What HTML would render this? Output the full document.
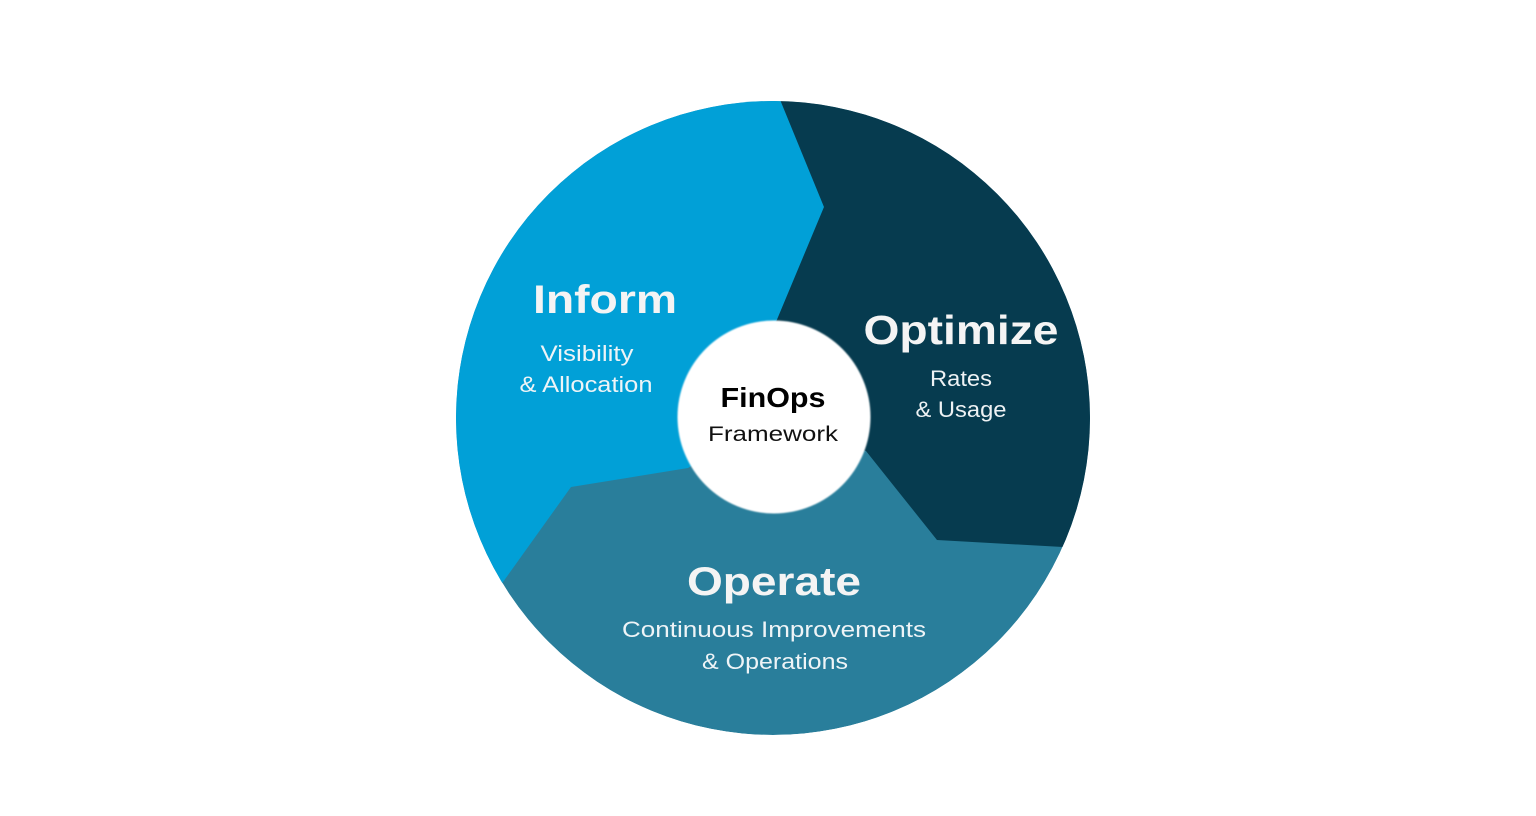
<!DOCTYPE html>
<html>
<head>
<meta charset="utf-8">
<style>
  html, body { margin:0; padding:0; background:#ffffff; }
  body { width:1536px; height:816px; overflow:hidden; }
  svg { display:block; }
  text { font-family: "Liberation Sans", sans-serif; }
</style>
</head>
<body>
<svg width="1536" height="816" viewBox="0 0 1536 816" xmlns="http://www.w3.org/2000/svg">
  <defs>
    <clipPath id="outer">
      <circle cx="773" cy="418" r="317"/>
    </clipPath>
    <filter id="soft" x="-10%" y="-10%" width="120%" height="120%">
      <feGaussianBlur stdDeviation="0.8"/>
    </filter>
  </defs>
  <rect width="1536" height="816" fill="#ffffff"/>
  <g clip-path="url(#outer)">
    <!-- Operate base -->
    <circle cx="773" cy="418" r="317" fill="#297e9b"/>
    <!-- Inform -->
    <polygon fill="#01a0d7" points="772,80 824,207 776,322 774,417 688,468 571,487 460,642 400,642 400,80"/>
    <!-- Optimize -->
    <polygon fill="#063b4f" points="772,80 824,207 776,322 774,417 866,451 937,540 1063,547 1120,550 1120,80"/>
  </g>
  <!-- center circle -->
  <circle cx="774" cy="417" r="96.5" fill="#ffffff" filter="url(#soft)"/>
  <circle cx="774" cy="417" r="95" fill="#ffffff"/>

  <!-- Inform -->
  <text x="605" y="313" text-anchor="middle" font-size="40" font-weight="bold" fill="#f4f4f4" textLength="144" lengthAdjust="spacingAndGlyphs">Inform</text>
  <text x="587" y="361" text-anchor="middle" font-size="22" fill="#eef4f7" textLength="93" lengthAdjust="spacingAndGlyphs">Visibility</text>
  <text x="586" y="392" text-anchor="middle" font-size="22" fill="#eef4f7" textLength="133" lengthAdjust="spacingAndGlyphs">&amp; Allocation</text>

  <!-- Optimize -->
  <text x="961" y="344" text-anchor="middle" font-size="41" font-weight="bold" fill="#f4f4f4" textLength="195" lengthAdjust="spacingAndGlyphs">Optimize</text>
  <text x="961" y="386" text-anchor="middle" font-size="22" fill="#eef2f4" textLength="62" lengthAdjust="spacingAndGlyphs">Rates</text>
  <text x="961" y="417" text-anchor="middle" font-size="22" fill="#eef2f4" textLength="91" lengthAdjust="spacingAndGlyphs">&amp; Usage</text>

  <!-- Operate -->
  <text x="774" y="595" text-anchor="middle" font-size="40" font-weight="bold" fill="#f4f4f4" textLength="174" lengthAdjust="spacingAndGlyphs">Operate</text>
  <text x="774" y="637" text-anchor="middle" font-size="22" fill="#eef4f7" textLength="304" lengthAdjust="spacingAndGlyphs">Continuous Improvements</text>
  <text x="775" y="669" text-anchor="middle" font-size="22" fill="#eef4f7" textLength="146" lengthAdjust="spacingAndGlyphs">&amp; Operations</text>

  <!-- Center -->
  <text x="773" y="407" text-anchor="middle" font-size="28" font-weight="bold" fill="#000000" textLength="105" lengthAdjust="spacingAndGlyphs">FinOps</text>
  <text x="773" y="441" text-anchor="middle" font-size="21" fill="#111111" textLength="130" lengthAdjust="spacingAndGlyphs">Framework</text>
</svg>
</body>
</html>
